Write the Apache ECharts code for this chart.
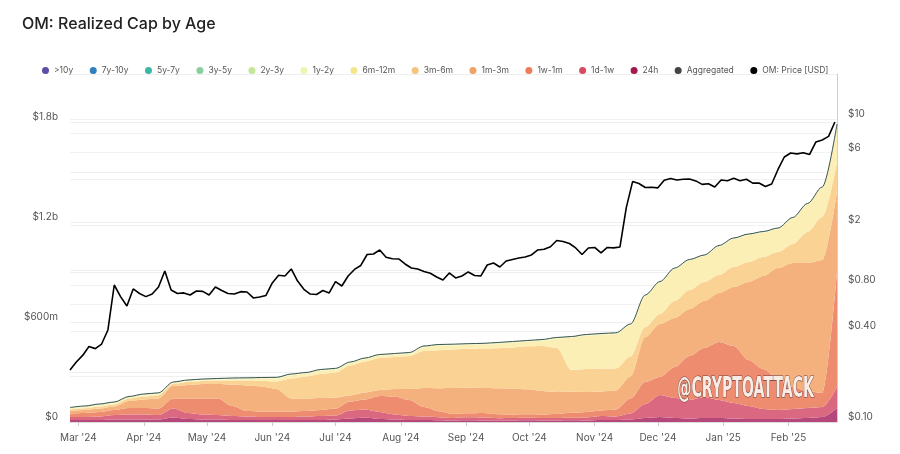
<!DOCTYPE html>
<html>
<head>
<meta charset="utf-8">
<title>OM: Realized Cap by Age</title>
<script src="https://cdn.jsdelivr.net/npm/echarts@6/dist/echarts.min.js"></script>
<style>
  html, body { margin: 0; padding: 0; background: #fff; }
  #chart { width: 900px; height: 454px; }
</style>
</head>
<body>
<div id="chart"></div>
<script>
// OM realized cap by coin age (weekly, $ millions) + OM price (every 3 days, USD)
var DAY = 86400000;
var capStart = Date.UTC(2024, 1, 26);
var capStepDays = 7;
var priceStart = Date.UTC(2024, 1, 26);
var priceStepDays = 3;
var axisEnd = Date.UTC(2025, 1, 24);

var ageBands = ['>10y', '7y-10y', '5y-7y', '3y-5y', '2y-3y', '1y-2y', '6m-12m', '3m-6m', '1m-3m', '1w-1m', '1d-1w', '24h'];
var bandColors = ['#5a4fa6', '#3180c0', '#3cb7a3', '#8ccf9e', '#c5e69a', '#eef5ae', '#f4e68a', '#f7c47c', '#f2a262', '#ec7d5a', '#d9495f', '#a3184f'];
var areaColors = ['#9d95cc', '#86b3dc', '#8fd3c6', '#b4dfbf', '#daeeb6', '#f6f7c6', '#fcefb6', '#f9d294', '#f5b17d', '#ee8c70', '#da6880', '#b6477b'];

var cap24h = [12, 12, 12, 15, 15, 15, 15, 27, 18, 15, 15, 12, 12, 12, 12, 12, 12, 12, 15, 21, 27, 18, 15, 12, 12, 11,
  9, 10, 9, 8, 9, 10, 9, 9, 10, 9, 12, 12, 15, 24, 30, 24, 21, 24, 24, 21, 18, 18, 18, 21, 24, 30, 84];
var cap1d1w = [18, 18, 21, 27, 30, 30, 27, 54, 36, 30, 27, 24, 21, 18, 18, 18, 21, 24, 24, 48, 48, 42, 30, 24, 21, 18,
  15, 18, 18, 15, 15, 15, 15, 15, 15, 18, 24, 21, 36, 84, 132, 120, 111, 126, 108, 93, 78, 60, 54, 57, 60, 60, 126];
var cap1w1m = [21, 24, 27, 30, 39, 39, 39, 60, 87, 96, 99, 60, 33, 33, 33, 33, 33, 36, 42, 54, 60, 96, 108, 96, 57, 36,
  24, 24, 27, 24, 21, 21, 21, 24, 30, 33, 33, 42, 90, 132, 108, 186, 264, 294, 348, 342, 276, 240, 186, 132, 102, 84, 690];
var cap1m3m = [15, 18, 21, 21, 42, 51, 60, 76, 81, 87, 87, 129, 153, 150, 135, 78, 75, 72, 66, 36, 42, 36, 45, 66, 114, 138,
  156, 153, 150, 156, 156, 150, 141, 132, 126, 120, 114, 114, 132, 270, 318, 294, 282, 282, 294, 354, 468, 558, 666, 744, 768, 798, 480];
var cap3m6m = [9, 10, 12, 12, 15, 18, 20, 12, 18, 18, 21, 24, 30, 33, 45, 120, 132, 144, 150, 180, 186, 192, 192, 198, 222, 228,
  231, 234, 237, 240, 246, 258, 270, 264, 132, 138, 138, 132, 120, 60, 60, 102, 114, 114, 108, 120, 120, 114, 96, 114, 186, 258, 180];
var cap6m12m = [4, 6, 7, 7, 4, 7, 6, 3, 4, 4, 4, 7, 8, 13, 17, 19, 16, 19, 17, 13, 13, 13, 13, 13, 22, 26,
  23, 23, 22, 25, 28, 28, 31, 55, 193, 199, 202, 206, 187, 184, 187, 190, 175, 154, 169, 166, 160, 145, 136, 151, 163, 172, 220];
var cap1y2y = [4, 4, 4, 4, 4, 4, 4, 4, 4, 4, 4, 4, 4, 4, 4, 4, 4, 4, 4, 4, 4, 4, 4, 4, 4, 4,
  4, 4, 4, 4, 4, 4, 4, 4, 4, 4, 4, 4, 4, 4, 4, 4, 4, 4, 4, 4, 4, 4, 4, 4, 4, 4, 4];
var cap2y3y = [3, 3, 3, 3, 3, 3, 3, 3, 3, 3, 3, 3, 3, 3, 3, 3, 3, 3, 3, 3, 3, 3, 3, 3, 3, 3,
  3, 3, 3, 3, 3, 3, 3, 3, 3, 3, 3, 3, 3, 3, 3, 3, 3, 3, 3, 3, 3, 3, 3, 3, 3, 3, 3];
var cap3y5y = [1, 1, 1, 1, 1, 1, 1, 1, 1, 1, 1, 1, 1, 1, 1, 1, 1, 1, 1, 1, 1, 1, 1, 1, 1, 1,
  1, 1, 1, 1, 1, 1, 1, 1, 1, 1, 1, 1, 1, 1, 1, 1, 1, 1, 1, 1, 1, 1, 1, 1, 1, 1, 1];
var aggregated = [87, 96, 108, 120, 153, 168, 175, 240, 252, 258, 261, 264, 265, 267, 268, 288, 297, 315, 322, 360, 384, 405,
  411, 417, 456, 465, 467, 470, 472, 477, 483, 489, 495, 507, 513, 525, 531, 535, 588, 762, 843, 924, 975, 1002, 1059, 1104,
  1128, 1143, 1164, 1227, 1311, 1410, 1788];

var omPrice = [0.220, 0.249, 0.275, 0.315, 0.305, 0.327, 0.405, 0.802, 0.672, 0.583,
  0.755, 0.705, 0.672, 0.699, 0.778, 0.993, 0.744, 0.705, 0.711, 0.689,
  0.732, 0.728, 0.689, 0.778, 0.738, 0.705, 0.699, 0.725, 0.721, 0.659,
  0.668, 0.684, 0.827, 0.930, 0.920, 1.023, 0.852, 0.751, 0.699, 0.694,
  0.738, 0.711, 0.844, 0.790, 0.920, 1.016, 1.079, 1.275, 1.285, 1.366,
  1.222, 1.194, 1.191, 1.104, 1.038, 1.023, 0.985, 0.959, 0.905, 0.866,
  0.963, 0.893, 0.920, 0.978, 0.927, 0.920, 1.087, 1.121, 1.054, 1.155,
  1.182, 1.209, 1.227, 1.266, 1.366, 1.380, 1.434, 1.578, 1.554, 1.507,
  1.408, 1.275, 1.408, 1.419, 1.305, 1.419, 1.410, 1.429, 2.60, 3.86,
  3.75, 3.53, 3.54, 3.51, 3.94, 4.05, 3.95, 4.00, 4.01, 3.90,
  3.70, 3.74, 3.56, 3.95, 3.91, 4.06, 3.91, 4.00, 3.77, 3.78,
  3.58, 3.72, 4.64, 5.61, 5.96, 5.88, 5.99, 5.83, 7.05, 7.27,
  7.68, 9.55];

var capTickLabels = { 0: '$0', 600: '$600m', 1200: '$1.2b', 1800: '$1.8b' };
var priceLabelTicks = [0.1, 0.4, 0.8, 2, 6, 10];
var priceLabelText = ['$0.10', '$0.40', '$0.80', '$2', '$6', '$10'];
var priceGridTicks = [0.2, 0.4, 0.6, 0.8, 1, 2, 4, 6, 8, 10];
var MONTHS = ['Jan', 'Feb', 'Mar', 'Apr', 'May', 'Jun', 'Jul', 'Aug', 'Sep', 'Oct', 'Nov', 'Dec'];

var capMax = 2088;
var priceMin = 0.1, priceMax = 19.8;

function withDates(values, start, step) {
  return values.map(function (v, i) { return [start + i * step * DAY, v]; });
}

var capByBand = {
  '>10y': [], '7y-10y': [], '5y-7y': [],
  '3y-5y': cap3y5y, '2y-3y': cap2y3y, '1y-2y': cap1y2y, '6m-12m': cap6m12m,
  '3m-6m': cap3m6m, '1m-3m': cap1m3m, '1w-1m': cap1w1m, '1d-1w': cap1d1w, '24h': cap24h
};

var series = [];
// youngest band at the bottom of the stack
for (var i = ageBands.length - 1; i >= 0; i--) {
  var name = ageBands[i];
  series.push({
    name: name,
    type: 'line',
    stack: 'age',
    yAxisIndex: 0,
    symbol: 'none',
    smooth: 0.3,
    smoothMonotone: 'x',
    color: bandColors[i],
    lineStyle: { width: 0 },
    areaStyle: { color: areaColors[i], opacity: 1 },
    data: withDates(capByBand[name], capStart, capStepDays)
  });
}
series.push({
  name: 'Aggregated',
  type: 'line',
  yAxisIndex: 0,
  symbol: 'none',
  smooth: 0.3,
  smoothMonotone: 'x',
  color: '#444',
  lineStyle: { width: 1, color: '#3b534d' },
  z: 5,
  data: withDates(aggregated, capStart, capStepDays)
});
series.push({
  name: 'OM: Price [USD]',
  type: 'line',
  yAxisIndex: 1,
  symbol: 'none',
  color: '#000',
  lineStyle: { width: 1.6, color: '#000' },
  z: 6,
  data: withDates(omPrice, priceStart, priceStepDays)
});

var chart = echarts.init(document.getElementById('chart'), null, { renderer: 'canvas' });
chart.setOption({
  animation: false,
  backgroundColor: '#fff',
  textStyle: { fontFamily: 'Inter, "Noto Sans", sans-serif' },
  title: {
    text: 'OM: Realized Cap by Age',
    left: 17,
    top: 11,
    textStyle: { fontSize: 16, fontWeight: 500, color: '#222' }
  },
  tooltip: { trigger: 'axis' },
  legend: {
    data: ageBands.concat(['Aggregated', 'OM: Price [USD]']),
    top: 61,
    left: 37,
    icon: 'circle',
    itemWidth: 7,
    itemHeight: 7,
    itemGap: 16.5,
    textStyle: { fontSize: 8.5, color: '#555' }
  },
  grid: { left: 70, right: 63, top: 74, bottom: 32 },
  xAxis: {
    type: 'time',
    min: capStart,
    max: axisEnd,
    splitNumber: 12,
    axisLine: { lineStyle: { color: '#dcdcdc' } },
    axisTick: { show: true, length: 4, lineStyle: { color: '#ccc' } },
    splitLine: { show: false },
    axisLabel: {
      color: '#555',
      fontSize: 10,
      margin: 11,
      formatter: function (v) {
        var d = new Date(v);
        return MONTHS[d.getUTCMonth()] + " '" + String(d.getUTCFullYear()).slice(2);
      }
    }
  },
  yAxis: [{
    type: 'value',
    min: 0,
    max: capMax,
    interval: 300,
    axisLine: { show: false },
    axisTick: { show: false },
    splitLine: { lineStyle: { color: '#efefef' } },
    axisLabel: {
      color: '#555',
      fontSize: 10,
      margin: 12,
      verticalAlign: 'bottom',
      showMaxLabel: false,
      formatter: function (v) { return capTickLabels[v] || ''; }
    }
  }, {
    type: 'log',
    min: priceMin,
    max: priceMax,
    position: 'right',
    axisLine: { show: true, lineStyle: { color: '#cfcfcf' } },
    axisTick: { show: false },
    axisLabel: { show: false },
    splitLine: { show: false }
  }, {
    // label axis for the log price scale (log10 space)
    type: 'value',
    min: Math.log10(priceMin),
    max: Math.log10(priceMax),
    position: 'right',
    axisLine: { show: false },
    axisTick: { show: false, customValues: priceGridTicks.map(Math.log10) },
    splitLine: { show: true, lineStyle: { color: '#f1f1f1' } },
    axisLabel: {
      color: '#555',
      fontSize: 10,
      margin: 11,
      verticalAlign: 'bottom',
      customValues: priceLabelTicks.map(Math.log10),
      formatter: function (v) {
        for (var k = 0; k < priceLabelTicks.length; k++) {
          if (Math.abs(Math.log10(priceLabelTicks[k]) - v) < 1e-6) return priceLabelText[k];
        }
        return '';
      }
    }
  }],
  graphic: [{
    type: 'text',
    left: 677,
    top: 375,
    scaleX: 0.56,
    z: 100,
    style: {
      text: '@CRYPTOATTACK',
      font: 'bold 28px "Liberation Sans Narrow", "DejaVu Sans Condensed", sans-serif',
      fill: '#f8ece4',
      stroke: '#6a3f3f',
      lineWidth: 1.2,
      shadowColor: 'rgba(60,30,30,0.6)',
      shadowOffsetX: 1,
      shadowOffsetY: 1
    }
  }],
  series: series
});
window.addEventListener('resize', function () { chart.resize(); });
</script>
</body>
</html>
